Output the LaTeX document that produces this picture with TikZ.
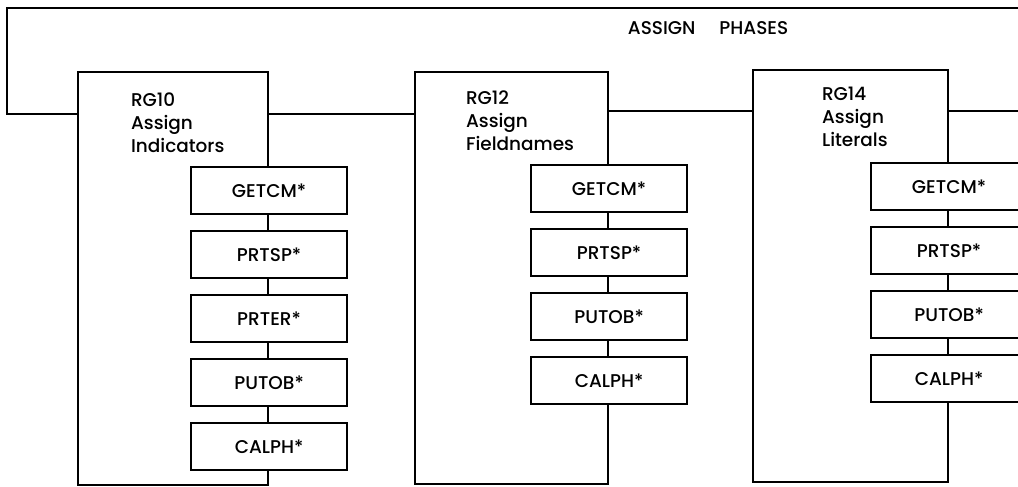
\documentclass[tikz,border=0pt]{standalone}
\usepackage{fontspec}
\setsansfont{Poppins Medium}
\usetikzlibrary{fit}

\begin{document}
\begin{tikzpicture}[x=0.02cm,y=-0.02cm,line width=1.2pt,
  font=\sffamily\fontsize{10.5}{13}\selectfont,
  phase/.style={draw,inner sep=0pt},
  phasetext/.style={anchor=north west,align=left,inner sep=0pt},
  routine/.style={draw,fill=white,minimum width=3.12cm,minimum height=0.94cm,inner sep=0pt}]
\useasboundingbox (0,0) rectangle (1018,487);
\clip (0,0) rectangle (1018,487);
\node[anchor=west] (title) at (621,28) {ASSIGN\hspace{1.3em}PHASES};
% phase boxes
\node[phase,fit={(78,72) (268,485)}] (rg10) {};
\node[phase,fit={(415,72) (608,484)}] (rg12) {};
\node[phase,fit={(753,70) (948,482)}] (rg14) {};
\node[phasetext] (rg10t) at (130,92) {RG10\\Assign\\Indicators};
\node[phasetext] (rg12t) at (465,90) {RG12\\Assign\\Fieldnames};
\node[phasetext] (rg14t) at (821,86) {RG14\\Assign\\Literals};
% links between phases
\coordinate (topright) at (1018,8);
\coordinate (bend) at (7,114);
\coordinate (farright) at (1018,111);
\draw (topright) -| (bend) -- (bend -| rg10.west);
\draw (rg10.east |- bend) -- (rg12.west |- bend);
\draw (rg12.east |- farright) -- (rg14.west |- farright);
\draw (rg14.east |- farright) -- (farright);
% called routines
\foreach \name [count=\i] in {GETCM,PRTSP,PRTER,PUTOB,CALPH}
  \node[routine] (rg10r\i) at (rg10.east |- 0,{190.5+64*(\i-1)}) {\name*};
\foreach \name [count=\i] in {GETCM,PRTSP,PUTOB,CALPH}
  \node[routine] (rg12r\i) at (rg12.east |- 0,{188.5+64*(\i-1)}) {\name*};
\foreach \name [count=\i] in {GETCM,PRTSP,PUTOB,CALPH}
  \node[routine] (rg14r\i) at (rg14.east |- 0,{186.5+64*(\i-1)}) {\name*};
\end{tikzpicture}
\end{document}
